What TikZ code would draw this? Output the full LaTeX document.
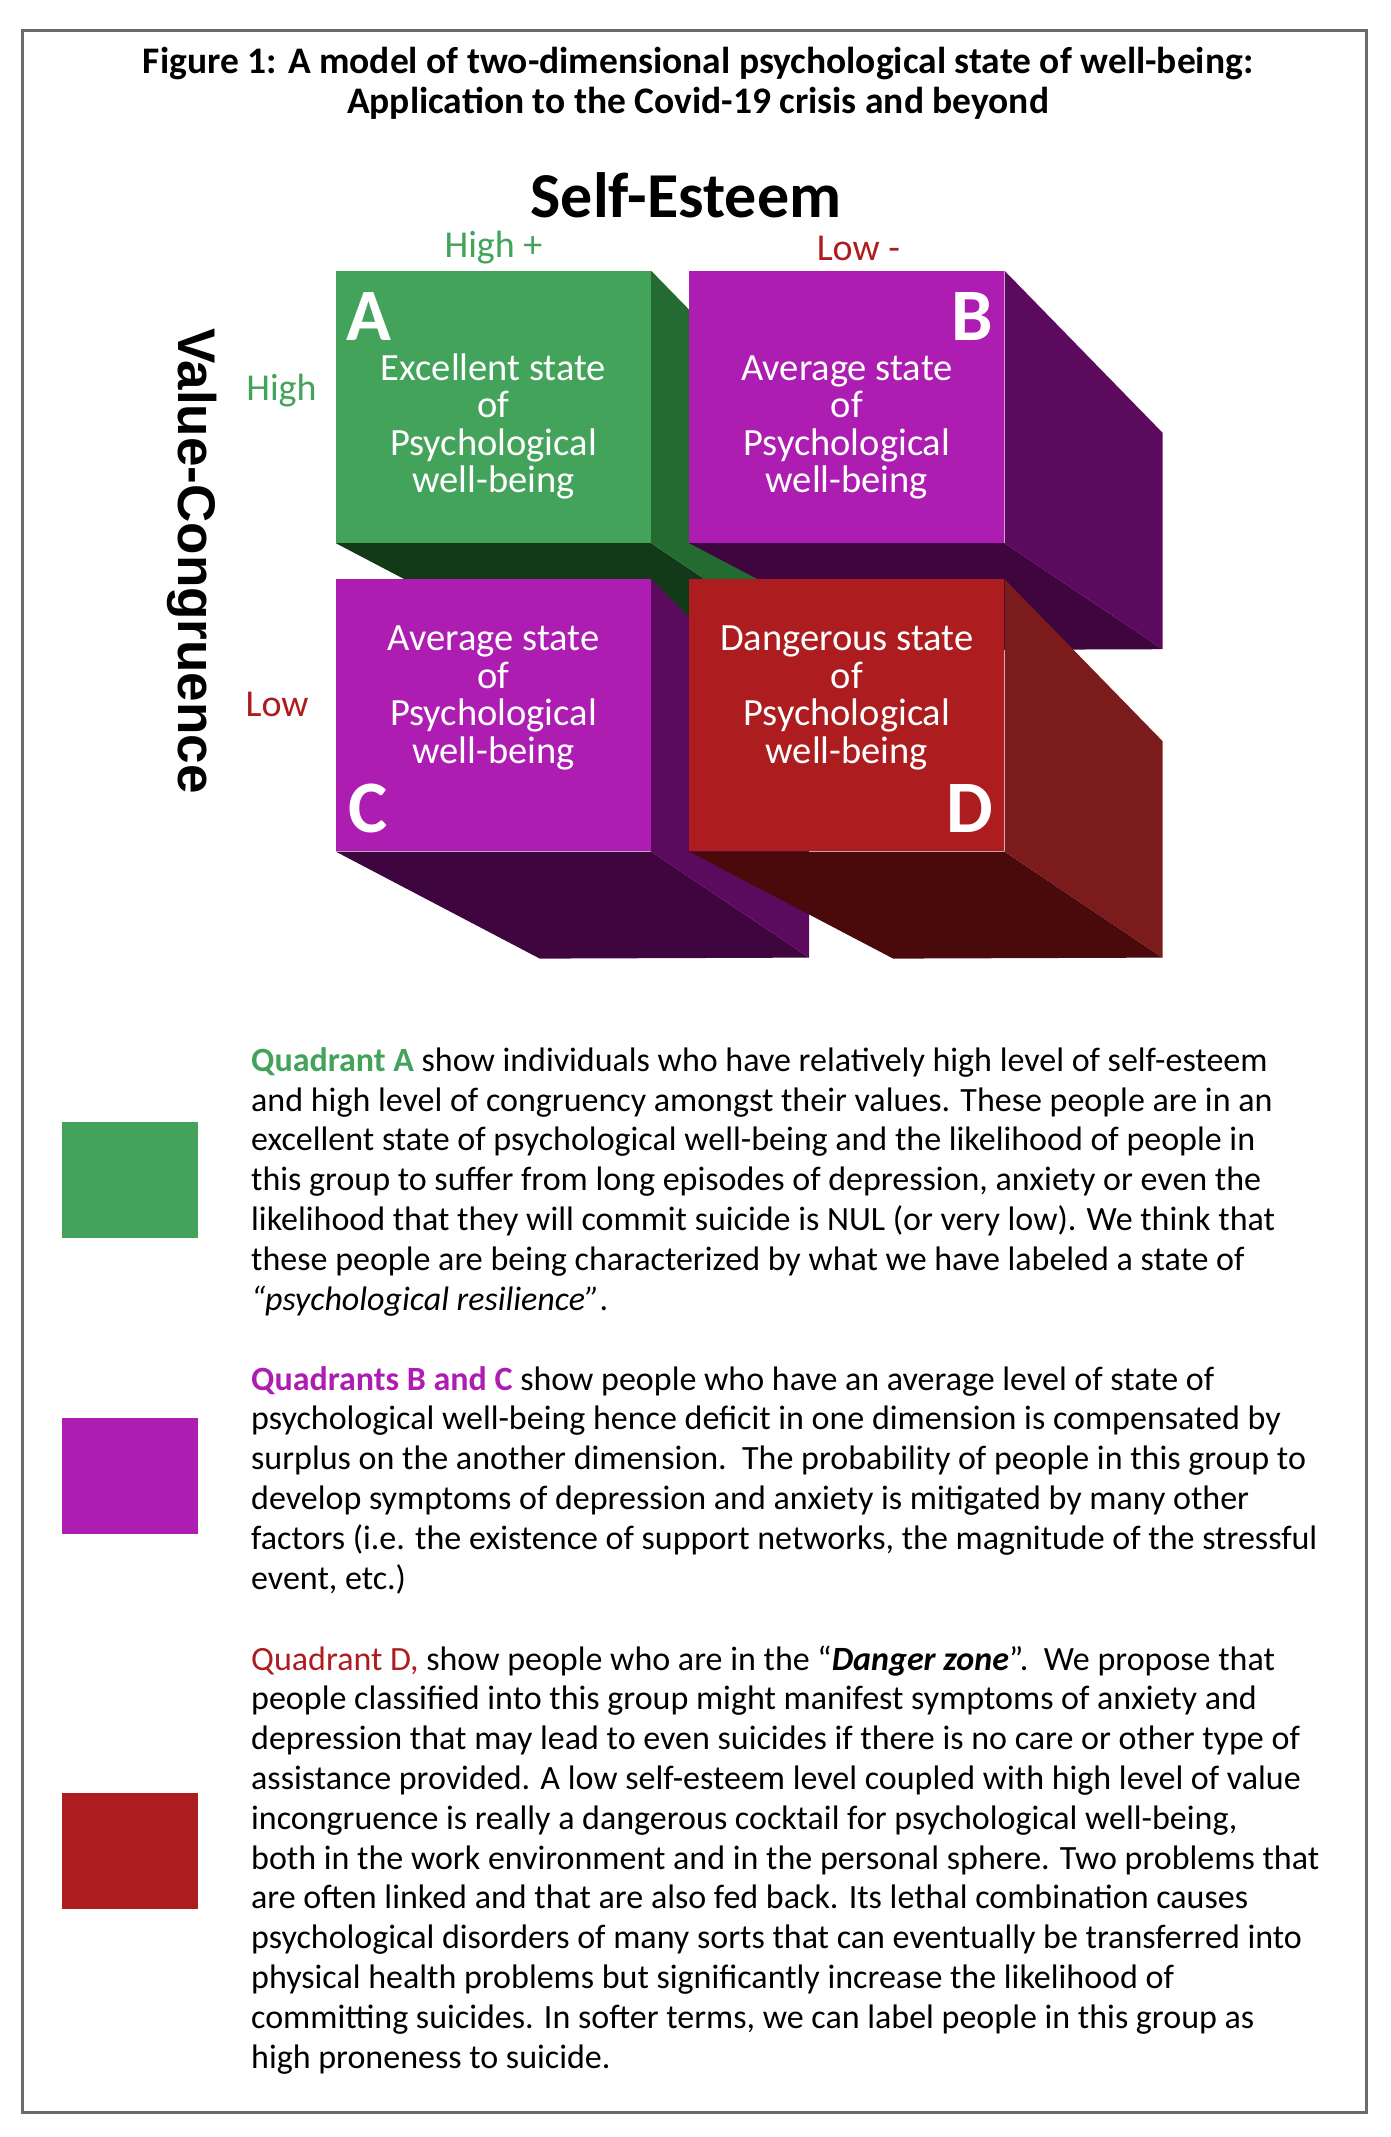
\documentclass[tikz,border=0pt]{standalone}
\usepackage{fontspec}
\setmainfont{Carlito}
\newfontfamily\axisfont{Liberation Sans}
\usetikzlibrary{backgrounds, positioning, calc}

\definecolor{qgreen}{HTML}{43A35A}
\definecolor{qgreenside}{HTML}{236B30}
\definecolor{qgreenbot}{HTML}{133A18}
\definecolor{qpurple}{HTML}{AE1DB2}
\definecolor{qpurpleside}{HTML}{5C0A5D}
\definecolor{qpurplebot}{HTML}{3F053F}
\definecolor{qred}{HTML}{AD1C1E}
\definecolor{qredside}{HTML}{7B1B1C}
\definecolor{qredbot}{HTML}{4A0A0B}
\definecolor{framegray}{HTML}{6B6B6B}

\tikzset{
	frame/.style={draw=framegray, line width=3pt},
	front/.style={minimum width=315pt, minimum height=272pt, inner sep=0pt},
	cubetext/.style={text=white, align=center, anchor=base, font=\fontsize{38.5}{37.5}\selectfont},
	letter/.style={text=white, inner sep=0pt, font=\fontsize{74}{74}\selectfont\bfseries},
	axislabel/.style={inner sep=0pt, font=\fontsize{38}{38}\selectfont},
	para/.style={anchor=base west, align=left, inner sep=0pt, font=\fontsize{34}{39.8}\selectfont},
	key/.style={minimum width=136pt, minimum height=116pt, inner sep=0pt}
}

\begin{document}
\begin{tikzpicture}[x=1pt, y=-1pt]
	\useasboundingbox (0,0) rectangle (1390,2137);
	\draw[frame] (22,30) rectangle (1366,2112);

	% the base of a node with several lines is its last line
	\node[anchor=base, align=center, inner sep=0pt, font=\fontsize{37.5}{40}\selectfont\bfseries] (title) at (698,113)
		{Figure 1: A model of two-dimensional psychological state of well-being:\\Application to the Covid-19 crisis and beyond};
	\node[anchor=base, inner sep=0pt, font=\fontsize{64}{64}\selectfont\bfseries] (selfesteem) at (686,217) {Self-Esteem};
	\node[rotate=-90, inner sep=0pt, font=\fontsize{53}{53}\selectfont\axisfont\bfseries] (valuecong) at (192,561) {Value-Congruence};

	% front faces
	\node[front, fill=qgreen] (A) at (493.5,407) {};
	\node[front, fill=qpurple, right=38pt of A] (B) {};
	\node[front, fill=qpurple, below=36pt of A] (C) {};
	\node[front, fill=qred, right=38pt of C] (D) {};

	% side and bottom faces, back to front
	\begin{scope}[on background layer]
		\foreach \c/\side/\bot in {A/qgreenside/qgreenbot, B/qpurpleside/qpurplebot, C/qpurpleside/qpurplebot, D/qredside/qredbot}{
			\fill[\bot] (\c.south west) -- (\c.south east) -- ($(\c.south east)+(158,106)$) -- ($(\c.south west)+(204,107)$) -- cycle;
			\fill[\side] (\c.north east) -- ($(\c.north east)+(158,162)$) -- ($(\c.south east)+(158,106)$) -- (\c.south east) -- cycle;
		}
	\end{scope}

	\node[letter, anchor=base west] (Aletter) at ($(A.north west)+(10,70)$) {A};
	\node[letter, anchor=base east] (Bletter) at ($(B.north east)+(-11,70)$) {B};
	\node[letter, anchor=base west] (Cletter) at ($(C.south west)+(12,-19)$) {C};
	\node[letter, anchor=base east] (Dletter) at ($(D.south east)+(-11,-19)$) {D};

	\node[cubetext] (Atext) at ($(A.north)+(0,222)$) {Excellent state\\of\\Psychological\\well-being};
	\node[cubetext] (Btext) at ($(B.north)+(0,222)$) {Average state\\of\\Psychological\\well-being};
	\node[cubetext] (Ctext) at ($(C.north)+(0,184)$) {Average state\\of\\Psychological\\well-being};
	\node[cubetext] (Dtext) at ($(D.north)+(0,184)$) {Dangerous state\\of\\Psychological\\well-being};

	\node[axislabel, text=qgreen, anchor=base] (seHigh) at ($(A.north)+(0,-13)$) {High +};
	\node[axislabel, text=qred, anchor=base] (seLow) at ($(B.north)+(11.5,-10)$) {Low -};
	\node[axislabel, text=qgreen, anchor=base east] (vcHigh) at ($(A.west)+(-19,-7)$) {High};
	\node[axislabel, text=qred, anchor=base east] (vcLow) at ($(C.west)+(-27,1)$) {Low};

	% legend
	\node[para] (paraA) at (251,1310) {{\color{qgreen}\bfseries Quadrant A} show individuals who have relatively high level of self-esteem\\
		and high level of congruency amongst their values. These people are in an\\
		excellent state of psychological well-being and the likelihood of people in\\
		this group to suffer from long episodes of depression, anxiety or even the\\
		likelihood that they will commit suicide is NUL (or very low). We think that\\
		these people are being characterized by what we have labeled a state of\\
		\textit{“psychological resilience”}.};
	\node[para] (paraB) at (251,1589) {{\color{qpurple}\bfseries Quadrants B and C} show people who have an average level of state of\\
		psychological well-being hence deficit in one dimension is compensated by\\
		surplus on the another dimension.\ \ The probability of people in this group to\\
		develop symptoms of depression and anxiety is mitigated by many other\\
		factors (i.e. the existence of support networks, the magnitude of the stressful\\
		event, etc.)};
	\node[para] (paraD) at (251,2068) {{\color{qred}Quadrant D,} show people who are in the “\textbf{\textit{Danger zone}}”.\ \ We propose that\\
		people classified into this group might manifest symptoms of anxiety and\\
		depression that may lead to even suicides if there is no care or other type of\\
		assistance provided. A low self-esteem level coupled with high level of value\\
		incongruence is really a dangerous cocktail for psychological well-being,\\
		both in the work environment and in the personal sphere. Two problems that\\
		are often linked and that are also fed back. Its lethal combination causes\\
		psychological disorders of many sorts that can eventually be transferred into\\
		physical health problems but significantly increase the likelihood of\\
		committing suicides. In softer terms, we can label people in this group as\\
		high proneness to suicide.};

	\node[key, fill=qgreen] (keyA) at (130,1180) {};
	\node[key, fill=qpurple] (keyB) at (130,1476) {};
	\node[key, fill=qred] (keyD) at (130,1851) {};
\end{tikzpicture}
\end{document}
